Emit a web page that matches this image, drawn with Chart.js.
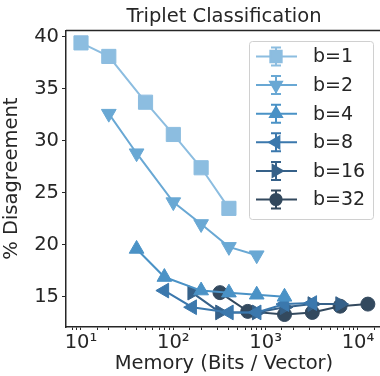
<!DOCTYPE html>
<html>
<head>
<meta charset="utf-8">
<script src="https://cdn.jsdelivr.net/npm/chart.js@4"></script>
<style>
    html, body { margin: 0; padding: 0; background: #fff; overflow: hidden; }
    #wrap { width: 380px; height: 376px; overflow: hidden; }
</style>
</head>
<body>
<div id="wrap"><canvas id="chart" width="393" height="376"></canvas></div>
<script>
"use strict";

// Series data
const labels = ['b=1', 'b=2', 'b=4', 'b=8', 'b=16', 'b=32'];

const memB1  = [10, 20, 50, 100, 200, 400];
const memB2  = [20, 40, 100, 200, 400, 800];
const memB4  = [40, 80, 200, 400, 800, 1600];
const memB8  = [80, 160, 400, 800, 1600, 3200];
const memB16 = [160, 320, 800, 1600, 3200, 6400];
const memB32 = [320, 640, 1600, 3200, 6400, 12800];

const errB1  = [39.4, 38.1, 33.7, 30.6, 27.4, 23.5];
const errB2  = [32.6, 28.8, 24.1, 22.0, 19.8, 19.0];
const errB4  = [19.6, 16.9, 15.6, 15.4, 15.2, 15.0];
const errB8  = [15.6, 14.0, 13.5, 13.5, 14.3, 14.4];
const errB16 = [15.4, 13.5, 13.5, 14.0, 14.3, 14.3];
const errB32 = [15.4, 13.6, 13.3, 13.5, 14.1, 14.3];

const yTicks = [15, 20, 25, 30, 35, 40];

const colors = ['#8cbde0', '#69a8d4', '#4a92c6', '#3b78ad', '#366189', '#33495e'];
const shapes = ['rect', 'triangle', 'triangle', 'triangle', 'triangle', 'circle'];
const rotations = [0, 180, 0, 270, 90, 0];
const radii = [10, 8.5, 8.5, 8.5, 8.5, 7];

const FONT = "'DejaVu Sans', sans-serif";
const FS = 19.5;
const INK = '#262626';
const X_MIN = 6.88;
const X_MAX = 18200;

function toPoints(xs, ys) {
    return xs.map((x, i) => ({ x: x, y: ys[i] }));
}

const series = [
    toPoints(memB1, errB1),
    toPoints(memB2, errB2),
    toPoints(memB4, errB4),
    toPoints(memB8, errB8),
    toPoints(memB16, errB16),
    toPoints(memB32, errB32)
];

const datasets = series.map((pts, i) => ({
    label: labels[i],
    data: pts,
    borderColor: colors[i],
    backgroundColor: colors[i],
    borderWidth: 2,
    pointStyle: shapes[i],
    rotation: rotations[i],
    pointRadius: radii[i],
    pointBorderWidth: 1,
    tension: 0
}));

const sup = { '1': '\u00b9', '2': '\u00b2', '3': '\u00b3', '4': '\u2074' };

// Top spine and matplotlib-like legend box
const framePlugin = {
    id: 'frame',
    afterDraw(chart) {
        const ctx = chart.ctx;
        const a = chart.chartArea;
        ctx.save();
        ctx.strokeStyle = INK;
        ctx.lineWidth = 1.5;
        ctx.beginPath();
        ctx.moveTo(a.left, a.top);
        ctx.lineTo(a.right, a.top);
        ctx.stroke();

        // legend
        const bx = 249, by = 41, bw = 124, bh = 178;
        ctx.fillStyle = 'rgba(255,255,255,0.85)';
        ctx.strokeStyle = '#d0d0d0';
        ctx.lineWidth = 1;
        ctx.beginPath();
        ctx.roundRect(bx + 0.5, by + 0.5, bw, bh, 3);
        ctx.fill();
        ctx.stroke();

        chart.data.datasets.forEach((ds, i) => {
            const y = 56.5 + i * 28.6;
            const mx = 276;
            ctx.strokeStyle = ds.borderColor;
            ctx.lineWidth = 2;
            ctx.beginPath();
            ctx.moveTo(256, y);
            ctx.lineTo(297, y);
            ctx.moveTo(mx, y - 9);
            ctx.lineTo(mx, y + 9);
            ctx.moveTo(mx - 5, y - 9);
            ctx.lineTo(mx + 5, y - 9);
            ctx.moveTo(mx - 5, y + 9);
            ctx.lineTo(mx + 5, y + 9);
            ctx.stroke();
            ctx.fillStyle = ds.backgroundColor;
            Chart.helpers.drawPoint(ctx, {
                pointStyle: ds.pointStyle,
                rotation: ds.rotation,
                radius: ds.pointRadius * 0.8,
                borderWidth: 1
            }, mx, y);
            ctx.fillStyle = INK;
            ctx.font = "19px " + FONT;
            ctx.textBaseline = 'middle';
            ctx.textAlign = 'left';
            ctx.fillText(ds.label, 313, y + 1);
        });
        ctx.restore();
    }
};

const config = {
    type: 'line',
    data: { datasets: datasets },
    options: {
        responsive: false,
        animation: false,
        layout: { padding: 0 },
        plugins: {
            legend: { display: false },
            tooltip: { enabled: false },
            title: {
                display: true,
                fullSize: false,
                text: 'Triplet Classification',
                color: INK,
                font: { family: FONT, size: FS, weight: 'normal', lineHeight: 1.2 },
                padding: { top: 5, bottom: 2 }
            }
        },
        scales: {
            x: {
                type: 'logarithmic',
                min: X_MIN,
                max: X_MAX,
                afterFit(scale) {
                    scale.height = 49;
                    scale.paddingLeft = 0;
                    scale.paddingRight = 0;
                },
                border: { display: true, color: INK, width: 1.5 },
                grid: {
                    display: true,
                    drawOnChartArea: false,
                    drawTicks: true,
                    tickLength: 3,
                    color: INK
                },
                ticks: {
                    autoSkip: false,
                    maxRotation: 0,
                    color: INK,
                    padding: 1,
                    font: { family: FONT, size: FS },
                    callback(value) {
                        if (value >= X_MAX || value <= X_MIN) return null;
                        const e = Math.log10(value);
                        if (Math.abs(e - Math.round(e)) < 1e-9 && sup[String(Math.round(e))]) {
                            return '10' + sup[String(Math.round(e))];
                        }
                        return '';
                    }
                },
                title: {
                    display: true,
                    text: 'Memory (Bits / Vector)',
                    color: INK,
                    font: { family: FONT, size: FS },
                    padding: { top: 0, bottom: 0 }
                }
            },
            y: {
                type: 'linear',
                min: 12.1,
                max: 40.6,
                afterFit(scale) { scale.width = 66; },
                afterBuildTicks(scale) {
                    scale.ticks = yTicks.map(v => ({ value: v }));
                },
                border: { display: true, color: INK, width: 1.5 },
                grid: {
                    display: true,
                    drawOnChartArea: false,
                    drawTicks: true,
                    tickLength: 4,
                    color: INK
                },
                ticks: {
                    color: INK,
                    padding: 3,
                    font: { family: FONT, size: FS }
                },
                title: {
                    display: true,
                    text: '% Disagreement',
                    color: INK,
                    font: { family: FONT, size: FS },
                    padding: { top: 0, bottom: 2 }
                }
            }
        }
    },
    plugins: [framePlugin]
};

const chart = new Chart(document.getElementById('chart').getContext('2d'), config);
</script>
</body>
</html>
